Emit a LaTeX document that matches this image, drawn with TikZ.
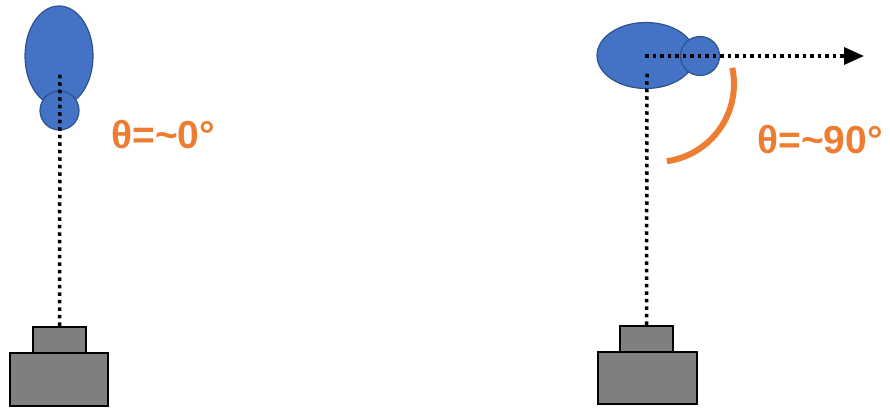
\documentclass[tikz,border=0pt]{standalone}
\usepackage{fontspec}
\setmainfont{Liberation Sans}
\usetikzlibrary{shapes.geometric,arrows.meta}
\definecolor{lobefill}{HTML}{4472C4}
\definecolor{lobeedge}{HTML}{2F528F}
\definecolor{anglecol}{HTML}{ED7D31}
\definecolor{basefill}{HTML}{7F7F7F}
\tikzset{
  lobe/.style={ellipse, draw=lobeedge, fill=lobefill, line width=1.2pt, inner sep=0pt},
  baseblock/.style={rectangle, draw=black, fill=basefill, line width=2.5pt, inner sep=0pt},
  dotline/.style={black, line width=3.5pt, dash pattern=on 3.5pt off 4pt},
  anglearc/.style={anglecol, line width=6pt},
  anglelabel/.style={text=anglecol, font=\fontsize{39}{43}\selectfont\bfseries, inner sep=0pt}
}
\begin{document}
\begin{tikzpicture}[x=1pt, y=-1pt]
  \useasboundingbox (0,0) rectangle (890,409);

  % left emitter: lobe pointing straight up
  \node[lobe, minimum width=68pt, minimum height=100pt] (lmain) at (59,56) {};
  \node[lobe, circle, minimum size=39pt] (lback) at (59.5,110.5) {};
  \node[baseblock, minimum width=98pt, minimum height=53pt] (lbase) at (59,379.5) {};
  \node[baseblock, minimum width=53pt, minimum height=26pt] (ltop) at (59.5,340) {};
  \coordinate (ltip) at (60,72);
  \draw[dotline] (ltop.north) -- (ltip);
  \node[anglelabel, anchor=west] (llabel) at (111,135) {θ=\textasciitilde0°};

  % right emitter: lobe turned sideways
  \node[lobe, minimum width=98pt, minimum height=66pt] (rmain) at (646,55.5) {};
  \node[lobe, circle, minimum size=39pt] (rback) at (700,56) {};
  \node[baseblock, minimum width=99pt, minimum height=52pt] (rbase) at (647.5,378) {};
  \node[baseblock, minimum width=53pt, minimum height=26pt] (rtop) at (646.5,339) {};
  \coordinate (rtip) at (647,73);
  \coordinate (rstart) at (645,56);
  \coordinate (rend) at (864,56);
  \draw[dotline] (rtop.north) -- (rtip);
  \draw[dotline, -{Triangle[length=20pt, width=17pt]}] (rstart) -- (rend);
  \draw[anglearc] (656,84) ++(12:78pt) arc[start angle=12, end angle=-82, radius=78pt];
  \node[anglelabel, anchor=west] (rlabel) at (757,140) {θ=\textasciitilde90°};
\end{tikzpicture}
\end{document}
